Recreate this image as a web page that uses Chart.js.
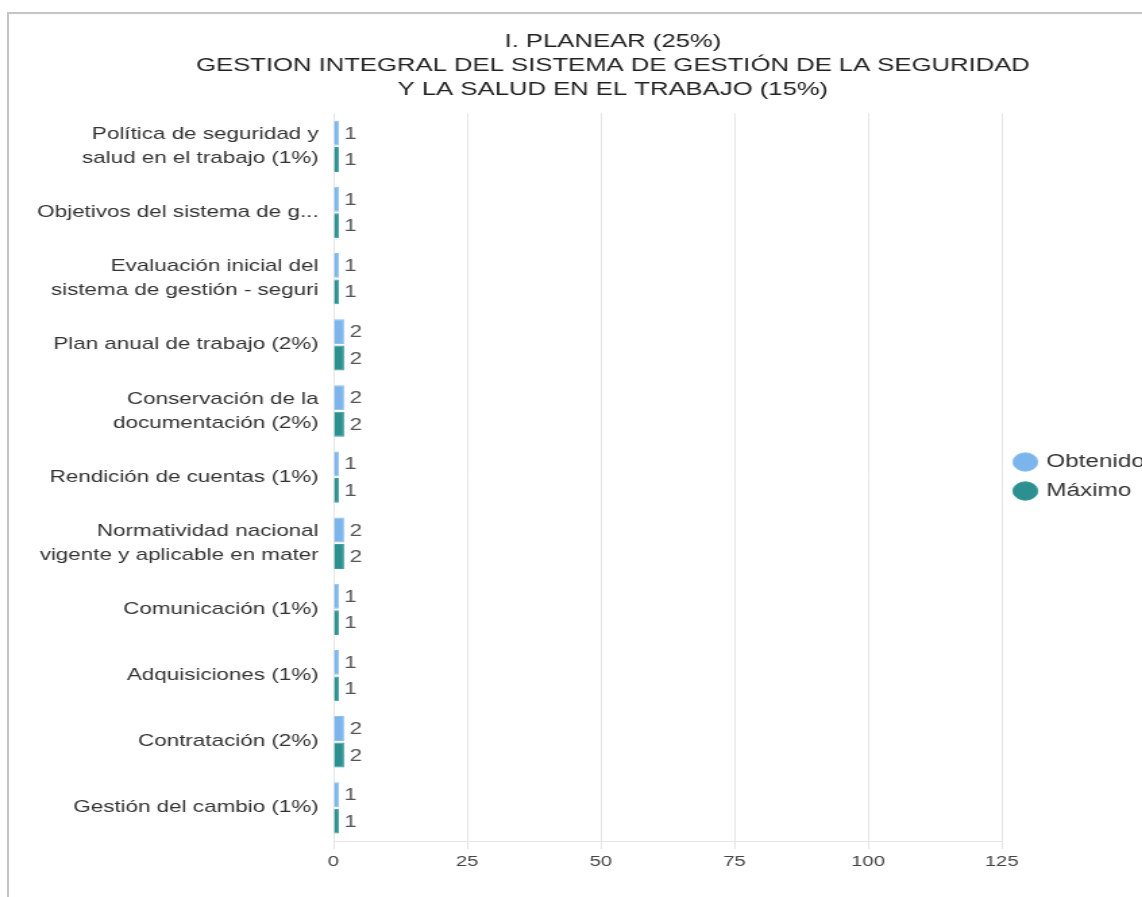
<!DOCTYPE html>
<html>
<head>
<meta charset="utf-8">
<script src="https://cdn.jsdelivr.net/npm/chart.js@4"></script>
<style>
  body { margin: 0; background: #fff; overflow: hidden; }
  #frame { position: absolute; left: 7px; top: 12px; width: 1200px; height: 950px;
           border-left: 2px solid #c4c4c4; border-top: 2px solid #c4c4c4; }
  /* the reference is stretched sideways, so draw narrow and scale the box */
  #wrap { position: absolute; left: 0; top: 0; width: 846px; height: 897px;
          transform: scaleX(1.35); transform-origin: 0 0; }
</style>
</head>
<body>
<div id="frame"></div>
<div id="wrap"><canvas id="myChart"></canvas></div>
<script>
var categories = [
  ['Política de seguridad y', 'salud en el trabajo (1%)'],
  'Objetivos del sistema de g...',
  ['Evaluación inicial del', 'sistema de gestión - seguri'],
  'Plan anual de trabajo (2%)',
  ['Conservación de la', 'documentación (2%)'],
  'Rendición de cuentas (1%)',
  ['Normatividad nacional', 'vigente y aplicable en mater'],
  'Comunicación (1%)',
  'Adquisiciones (1%)',
  'Contratación (2%)',
  'Gestión del cambio (1%)'
];
var obtenido = [1, 1, 1, 2, 2, 1, 2, 1, 1, 2, 1];
var maximo = [1, 1, 1, 2, 2, 1, 2, 1, 1, 2, 1];
var xTicks = [0, 25, 50, 75, 100, 125];

var fontFam = '"Liberation Sans", Arial, sans-serif';

// draws the value just after the end of each bar
const valueLabels = {
  id: 'valueLabels',
  afterLayout(chart) {
    // title sits a bit right of the canvas centre in the original
    if (chart.titleBlock) chart.titleBlock.left += 54;
  },
  afterDatasetsDraw(chart) {
    const ctx = chart.ctx;
    ctx.save();
    ctx.font = '16.5px ' + fontFam;
    ctx.fillStyle = '#555';
    ctx.textBaseline = 'middle';
    chart.data.datasets.forEach((ds, i) => {
      chart.getDatasetMeta(i).data.forEach((bar, j) => {
        ctx.fillText(ds.data[j], bar.x + 4, bar.y + 1);
      });
    });
    ctx.restore();
  }
};

var ctx = document.getElementById('myChart');

new Chart(ctx, {
  type: 'bar',
  data: {
    labels: categories,
    datasets: [
      { label: 'Obtenido', data: obtenido, backgroundColor: '#7cb5ec', borderColor: '#8fc0ee', borderWidth: 1,
        categoryPercentage: 0.8, barPercentage: 0.94 },
      { label: 'Máximo', data: maximo, backgroundColor: '#2b908f', borderColor: '#3d9d9b', borderWidth: 1,
        categoryPercentage: 0.8, barPercentage: 0.94 }
    ]
  },
  options: {
    indexAxis: 'y',
    responsive: true,
    maintainAspectRatio: false,
    animation: false,
    devicePixelRatio: 1,
    layout: { padding: { left: 8, right: 0, top: 30, bottom: 22 } },
    plugins: {
      title: {
        display: true,
        text: ['I. PLANEAR (25%)', 'GESTION INTEGRAL DEL SISTEMA DE GESTIÓN DE LA SEGURIDAD', 'Y LA SALUD EN EL TRABAJO (15%)'],
        color: '#222',
        font: { family: fontFam, size: 19, weight: 'normal', lineHeight: 1.25 },
        padding: { top: 0, bottom: 12 }
      },
      legend: {
        position: 'right',
        maxWidth: 104,
        // empty title only pushes the items down to the middle
        title: { display: true, text: ' ', font: { size: 10 }, padding: { top: 0, bottom: 36 } },
        labels: {
          usePointStyle: true,
          pointStyle: 'circle',
          boxWidth: 13,
          boxHeight: 13,
          padding: 11,
          color: '#333',
          font: { family: fontFam, size: 18 }
        }
      },
      tooltip: { enabled: false }
    },
    scales: {
      x: {
        min: 0,
        max: 125,
        afterBuildTicks: (axis) => { axis.ticks = xTicks.map(v => ({ value: v })); },
        grid: { color: '#e6e6e6', tickLength: 8 },
        border: { display: true, color: '#e6e6e6' },
        ticks: { color: '#444', padding: 4, font: { family: fontFam, size: 15 } }
      },
      y: {
        afterFit: (axis) => { axis.width = 239; },
        grid: { display: false },
        border: { display: false },
        ticks: { color: '#333', padding: 3, font: { family: fontFam, size: 16.6, lineHeight: 1.45 } }
      }
    }
  },
  plugins: [valueLabels]
});
</script>
</body>
</html>
